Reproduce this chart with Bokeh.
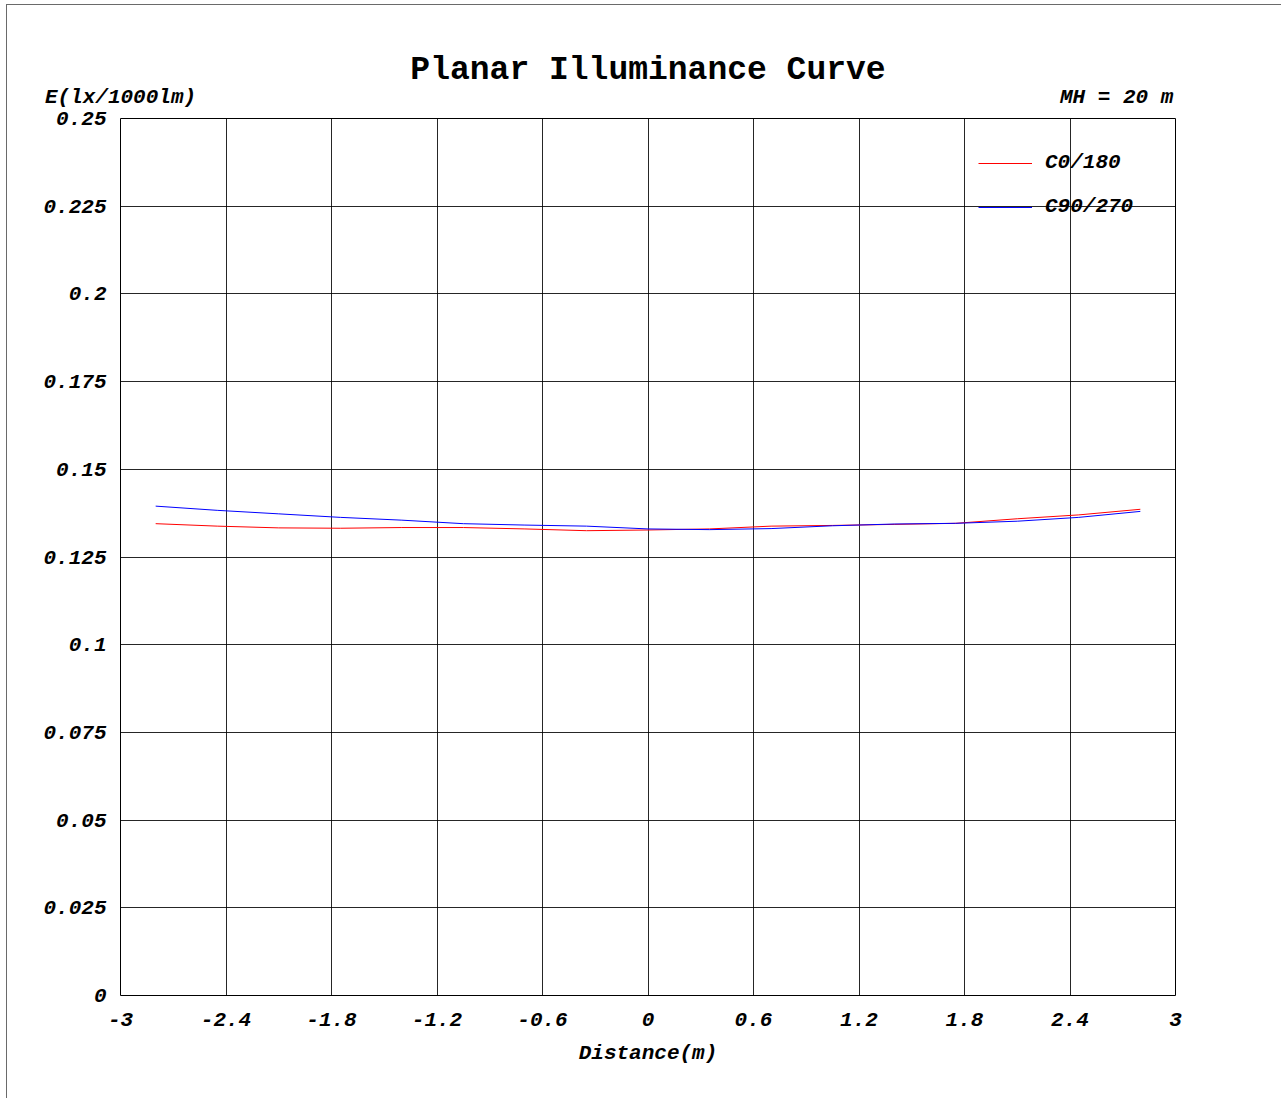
from bokeh.plotting import figure
from bokeh.models import Range1d, FixedTicker, Legend, LegendItem, LinearAxis
from bokeh.embed import file_html
from bokeh.resources import INLINE

# ---- data ----
distance = [-2.8, -2.45, -2.1, -1.75, -1.4, -1.05, -0.7, -0.35, 0.0,
            0.35, 0.7, 1.05, 1.4, 1.75, 2.1, 2.45, 2.8]
c0_180 = [0.1345, 0.1338, 0.1333, 0.1332, 0.1334, 0.1334, 0.1330, 0.1325, 0.1327,
          0.1330, 0.1338, 0.1340, 0.1343, 0.1346, 0.1359, 0.1370, 0.1386]
c90_270 = [0.1395, 0.1383, 0.1373, 0.1363, 0.1355, 0.1345, 0.1341, 0.1338, 0.1330,
           0.1328, 0.1331, 0.1339, 0.1344, 0.1346, 0.1352, 0.1363, 0.1380]

x_ticks = [-3, -2.4, -1.8, -1.2, -0.6, 0, 0.6, 1.2, 1.8, 2.4, 3]
x_tick_labels = ["-3", "-2.4", "-1.8", "-1.2", "-0.6", "0", "0.6", "1.2", "1.8", "2.4", "3"]
y_ticks = [0, 0.025, 0.05, 0.075, 0.1, 0.125, 0.15, 0.175, 0.2, 0.225, 0.25]
y_tick_labels = ["0", "0.025", "0.05", "0.075", "0.1", "0.125", "0.15", "0.175", "0.2", "0.225", "0.25"]

title_text = "Planar Illuminance Curve"
y_label_text = "E(lx/1000lm)"
x_label_text = "Distance(m)"
mh_text = "MH = 20 m"
series_names = ["C0/180", "C90/270"]

FONT = "Liberation Mono"
FS = "21px"

p = figure(width=1275, height=1094, output_backend="svg", toolbar_location=None,
           x_range=Range1d(-3, 3), y_range=Range1d(0, 0.25),
           min_border_left=113, min_border_right=107, min_border_top=113, min_border_bottom=104,
           styles={"border-left": "1px solid #6a6a6a", "border-top": "1px solid #6a6a6a",
                   "margin-left": "6px", "margin-top": "4px"})

p.outline_line_color = "black"
p.outline_line_width = 1
p.background_fill_color = "white"
p.border_fill_color = "white"

p.title.text = title_text
p.title.align = "center"
p.title.text_font = FONT
p.title.text_font_size = "33px"
p.title.text_font_style = "bold"
p.title.text_color = "black"
try:
    p.title.standoff = -12
except Exception:
    p.title.standoff = 0

for ax in (p.xaxis[0], p.yaxis[0]):
    ax.axis_line_color = None
    ax.major_tick_line_color = None
    ax.minor_tick_line_color = None
    ax.major_label_text_font = FONT
    ax.major_label_text_font_size = FS
    ax.major_label_text_font_style = "bold italic"
    ax.major_label_text_color = "black"

p.xaxis.ticker = FixedTicker(ticks=x_ticks)
p.yaxis.ticker = FixedTicker(ticks=y_ticks)
p.xaxis.major_label_overrides = {t: l for t, l in zip(x_ticks, x_tick_labels)}
p.yaxis.major_label_overrides = {t: l for t, l in zip(y_ticks, y_tick_labels)}
p.xaxis.major_label_standoff = 11
p.yaxis.major_label_standoff = 8

p.xaxis.axis_label = x_label_text
p.xaxis.axis_label_text_font = FONT
p.xaxis.axis_label_text_font_size = FS
p.xaxis.axis_label_text_font_style = "bold italic"
p.xaxis.axis_label_text_color = "black"
p.xaxis.axis_label_standoff = 13

# header row: unit label on the left, mounting height on the right
header_pos = [-3, 2.665]
header_axis = LinearAxis(ticker=FixedTicker(ticks=header_pos),
                         major_label_overrides={header_pos[0]: y_label_text, header_pos[1]: mh_text},
                         axis_line_color=None, major_tick_line_color=None,
                         minor_tick_line_color=None, major_label_standoff=4,
                         major_label_text_font=FONT, major_label_text_font_size=FS,
                         major_label_text_font_style="bold italic", major_label_text_color="black")
p.add_layout(header_axis, "above")

p.xgrid.grid_line_color = "black"
p.ygrid.grid_line_color = "black"
p.xgrid.grid_line_alpha = 0.85
p.ygrid.grid_line_alpha = 0.85

r1 = p.line(distance, c0_180, line_color="red", line_width=1)
r2 = p.line(distance, c90_270, line_color="blue", line_width=1)

legend = Legend(items=[LegendItem(label=series_names[0], renderers=[r1]),
                       LegendItem(label=series_names[1], renderers=[r2])],
                location=(858, 777), padding=0, margin=0, glyph_width=54, glyph_height=20,
                label_height=20, label_standoff=13, spacing=21,
                background_fill_alpha=0, border_line_alpha=0,
                label_text_font=FONT, label_text_font_size=FS,
                label_text_font_style="bold italic", label_text_color="black")
p.add_layout(legend, "center")

open("out.html", "w").write(file_html(p, INLINE))
